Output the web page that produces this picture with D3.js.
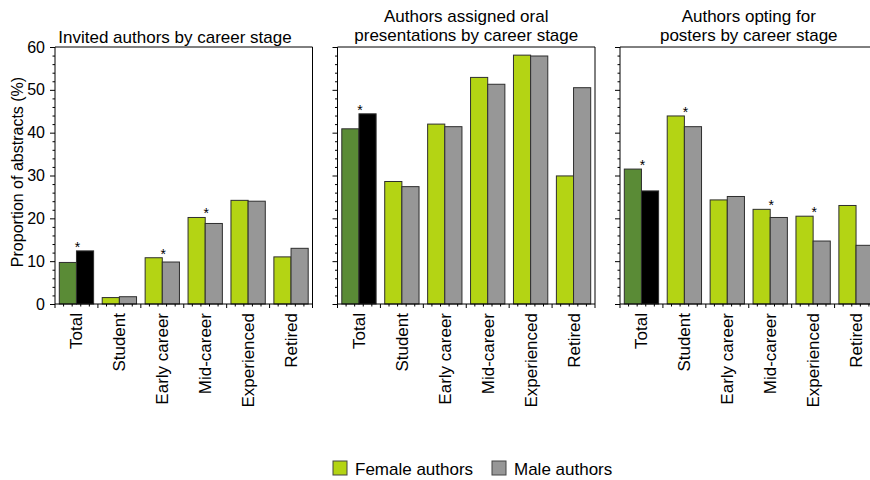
<!DOCTYPE html>
<html>
<head>
<meta charset="utf-8">
<script src="https://cdn.jsdelivr.net/npm/d3@7"></script>
<style>
  html, body { margin: 0; padding: 0; background: #fff; }
  svg { display: block; font-family: "Liberation Sans", Arial, Helvetica, sans-serif; }
</style>
</head>
<body>
<div id="chart"></div>
<script>
// Proportion of abstracts by career stage, three panels, female vs male authors.

const categories = ['Total', 'Student', 'Early career', 'Mid-career', 'Experienced', 'Retired'];
const yTicks = [0, 10, 20, 30, 40, 50, 60];

const invitedFemale = [9.7, 1.5, 10.8, 20.2, 24.2, 11.0];
const invitedMale   = [12.4, 1.7, 9.8, 18.8, 24.0, 13.0];
const invitedStars  = [1, 0, 1, 1, 0, 0];

const oralFemale = [40.9, 28.6, 42.0, 52.9, 58.1, 29.9];
const oralMale   = [44.4, 27.4, 41.4, 51.3, 57.9, 50.5];
const oralStars  = [1, 0, 0, 0, 0, 0];

const posterFemale = [31.5, 43.9, 24.3, 22.1, 20.5, 23.0];
const posterMale   = [26.4, 41.4, 25.1, 20.2, 14.7, 13.7];
const posterStars  = [1, 1, 0, 1, 1, 0];

const panels = [
    { title: ['Invited authors by career stage'], female: invitedFemale, male: invitedMale, stars: invitedStars },
    { title: ['Authors assigned oral', 'presentations by career stage'], female: oralFemale, male: oralMale, stars: oralStars },
    { title: ['Authors opting for', 'posters by career stage'], female: posterFemale, male: posterMale, stars: posterStars },
];

const COLORS = {
    femaleTotal: '#5a8b36',
    maleTotal: '#000000',
    female: '#b4d414',
    male: '#979797',
    edge: '#2e2e2e',
};

const width = 870, height = 480;
const panelLefts = [55, 337.5, 620];
const panelW = 257.5;
const plotTop = 47, plotBottom = 304;

const svg = d3.select('#chart').append('svg')
    .attr('width', width).attr('height', height);

const y = d3.scaleLinear().domain([0, 60]).range([plotBottom, plotTop]);

panels.forEach((p, pi) => {
    const x0 = panelLefts[pi];
    const g = svg.append('g').attr('transform', `translate(${x0},0)`);

    const x = d3.scaleBand().domain(categories).range([0, panelW]).padding(0);
    const step = x.bandwidth();
    const xs = d3.scaleBand().domain(['f', 'm']).range([4.3, step - 4.3]).padding(0);

    // frame (top + right)
    g.append('line').attr('x1', 0).attr('x2', panelW).attr('y1', plotTop).attr('y2', plotTop)
        .attr('stroke', '#000').attr('stroke-width', 1);
    g.append('line').attr('x1', panelW).attr('x2', panelW).attr('y1', plotTop).attr('y2', plotBottom)
        .attr('stroke', '#000').attr('stroke-width', 1);

    // bars
    categories.forEach((c, i) => {
        const isTotal = i === 0;
        const bx = x(c);
        [['f', p.female[i], isTotal ? COLORS.femaleTotal : COLORS.female],
         ['m', p.male[i], isTotal ? COLORS.maleTotal : COLORS.male]].forEach(([k, v, col]) => {
            g.append('rect')
                .attr('x', bx + xs(k)).attr('width', xs.bandwidth())
                .attr('y', y(v)).attr('height', plotBottom - y(v))
                .attr('fill', col)
                .attr('stroke', COLORS.edge).attr('stroke-width', 1);
        });
        if (p.stars[i]) {
            const tallest = Math.max(p.female[i], p.male[i]);
            g.append('text')
                .attr('x', bx + step / 2 + 1).attr('y', y(tallest) + 1)
                .attr('text-anchor', 'middle')
                .attr('font-size', '14px').attr('fill', '#000')
                .text('*');
        }
    });

    // y axis with minor ticks
    const yAxis = g.append('g').call(
        d3.axisLeft(y).tickValues(yTicks).tickSize(5).tickPadding(5)
            .tickFormat(pi === 0 ? d3.format('d') : () => '')
    );
    yAxis.selectAll('text').attr('font-size', '16px').attr('fill', '#000');
    yAxis.select('.domain').attr('d', `M0,${plotTop}V${plotBottom}`);
    g.append('g').call(
        d3.axisLeft(y).tickValues(d3.range(0, 61, 2).filter(v => v % 10 !== 0)).tickSize(2.5).tickFormat('')
    ).call(a => a.select('.domain').remove());

    // x axis: major ticks at band boundaries, minor ticks in between
    const bounds = d3.range(0, categories.length + 1).map(i => i * step);
    const minor = d3.range(0, categories.length * 5).filter(i => i % 5 !== 0).map(i => i * step / 5);
    g.append('line').attr('x1', 0).attr('x2', panelW).attr('y1', plotBottom).attr('y2', plotBottom)
        .attr('stroke', '#000');
    g.selectAll('.maj').data(bounds).join('line')
        .attr('x1', d => d).attr('x2', d => d).attr('y1', plotBottom).attr('y2', plotBottom + 4)
        .attr('stroke', '#000');
    g.selectAll('.min').data(minor).join('line')
        .attr('x1', d => d).attr('x2', d => d).attr('y1', plotBottom).attr('y2', plotBottom + 2.5)
        .attr('stroke', '#000');

    // rotated category labels
    categories.forEach(c => {
        g.append('text')
            .attr('transform', `translate(${x(c) + step / 2 + 6},313) rotate(-90)`)
            .attr('text-anchor', 'end')
            .attr('font-size', '17px').attr('fill', '#000')
            .text(c);
    });

    // panel title
    const cx = pi === 0 ? 120 : panelW / 2;
    if (p.title.length === 1) {
        g.append('text').attr('x', cx).attr('y', 43)
            .attr('text-anchor', 'middle').attr('font-size', '17px').text(p.title[0]);
    } else {
        p.title.forEach((t, li) => {
            g.append('text').attr('x', cx).attr('y', 22 + li * 19)
                .attr('text-anchor', 'middle').attr('font-size', '17px').text(t);
        });
    }
});

// y axis label
svg.append('text')
    .attr('transform', 'translate(23,172) rotate(-90)')
    .attr('text-anchor', 'middle')
    .attr('font-size', '16px')
    .text('Proportion of abstracts (%)');

// legend
const legend = [['Female authors', COLORS.female, 333], ['Male authors', COLORS.male, 492]];
legend.forEach(([label, col, lx]) => {
    svg.append('rect').attr('x', lx).attr('y', 461).attr('width', 14).attr('height', 14)
        .attr('fill', col).attr('stroke', '#444').attr('stroke-width', 1);
    svg.append('text').attr('x', lx + 22).attr('y', 474.5)
        .attr('font-size', '17px').text(label);
});
</script>
</body>
</html>
